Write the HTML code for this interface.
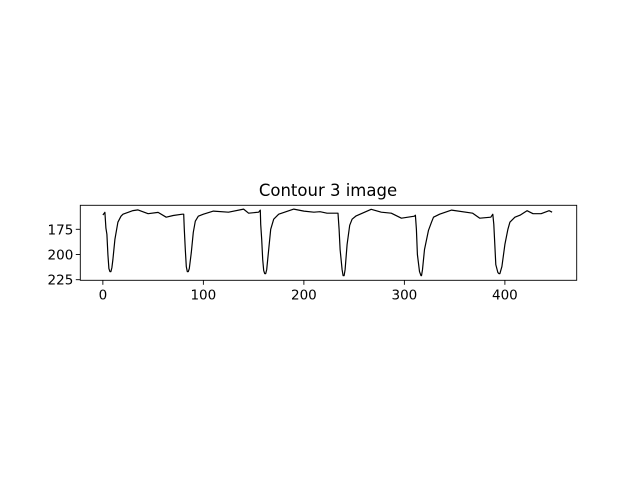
<!DOCTYPE html>
<html><head><meta charset="utf-8"><style>
body{margin:0;background:#fff;}
svg{display:block;font-family:"DejaVu Sans","Liberation Sans",sans-serif;}
</style></head><body>
<svg id="chart" width="640" height="480">
<rect width="640" height="480" fill="#fff"/>
<text x="328" y="196" text-anchor="middle" font-size="16.5">Contour 3 image</text>
<g id="plot"></g>
</svg>
<script>
const xValues=[0,2,3,4,5,6,7,8,9,10,12,15,18,20,30,35,45,55,63,70,79,80.4,81,82,83,84,85,86,88,90,92,95,100,110,125,140,145,155,156.6,157,158,159,160,161,162,163,165,167,170,175,190,200,210,216,223,234,235,236,238,239,240,241,243,245.6,248,252,267,277,287,297,310,311,312,313,315,316.5,317,318,320,324,327,329,335,347,368,375,386,388,389,390,391,393,394,395,397,400,403,405,410,415,422,428,436,444,447];
const yValues=[160.8,158.1,173.7,180,200,214,217,217,213,205,185,168,162,160,156.5,155.8,159.5,158.2,163,161.3,160,160,175,195,212,217,217,214,198,178,167,162,160,157,158,155,159,158,156,170,185,205,216,219,219,215,195,175,165,160,155,157,158,157.5,159,159,175,195,215,221,221,215,190,171,165,161.7,155.2,158,159,164,162,161,175,200,217,221,221,215,195,176,168,163,160,156,159,164,163,160,170,190,210,218,219,219,212,190,175,168,163,161,156.6,159.5,159.5,156.6,158];
const xTicks=[0,100,200,300,400];
const yTicks=[175,200,225];
const L=80.3,R=576.7,T=205.3,B=280.3;
const xMin=-22.45,xMax=471.45,yMin=151.2,yMax=225.6;
const sx=v=>L+(v-xMin)/(xMax-xMin)*(R-L);
const sy=v=>T+(v-yMin)/(yMax-yMin)*(B-T);
const g=document.getElementById('plot');
const NS='http://www.w3.org/2000/svg';
function mk(t,a){const e=document.createElementNS(NS,t);for(const k in a)e.setAttribute(k,a[k]);g.appendChild(e);return e;}
const line=mk('polyline',{points:xValues.map((x,i)=>sx(x).toFixed(1)+','+sy(yValues[i]).toFixed(1)).join(' '),fill:'none',stroke:'#000','stroke-width':1.2,'stroke-linejoin':'round'});


const frame=mk('rect',{x:L,y:T,width:R-L,height:B-T,fill:'none',stroke:'#000','stroke-width':0.9});


xTicks.forEach(v=>{
 const x=sx(v);
 const t=mk('line',{x1:x,x2:x,y1:B,y2:B+4.5,stroke:'#000','stroke-width':0.9});
 
 
 const l=mk('text',{x:x,y:B+19,'text-anchor':'middle','font-size':13.5});
 l.textContent=v;
 
 
});
yTicks.forEach(v=>{
 const y=sy(v);
 const t=mk('line',{x1:L-4.5,x2:L,y1:y,y2:y,stroke:'#000','stroke-width':0.9});
 
 
 const l=mk('text',{x:L-7,y:y+5,'text-anchor':'end','font-size':13.5});
 l.textContent=v;
 
 
});
</script>
</body></html>
